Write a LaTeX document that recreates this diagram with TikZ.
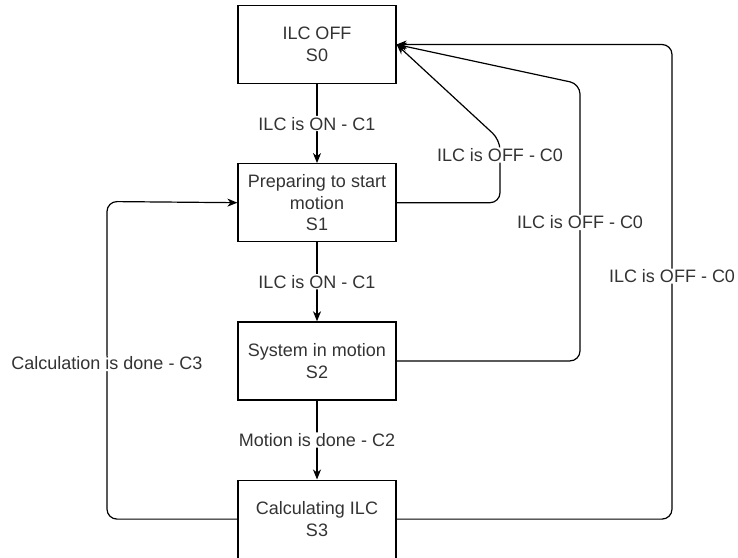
\documentclass[tikz,border=0pt]{standalone}
\usepackage{fontspec}
\setmainfont{Liberation Sans}
\usetikzlibrary{arrows.meta,positioning}

\begin{document}
\begin{tikzpicture}[x=1pt,y=1pt,node distance=79pt,
  state/.style={draw, line width=1.2pt, font=\fontsize{18}{21.6}\selectfont, text=black!80, align=center, inner sep=3pt, minimum width=158pt, minimum height=78pt},
  lbl/.style={fill=white, font=\fontsize{18}{21.6}\selectfont, text=black!80, inner sep=1pt},
  arr/.style={line width=1.2pt, rounded corners=10pt, -{Stealth[length=10pt,width=8pt,inset=3pt]}}]
  \useasboundingbox (0,0) rectangle (738,-557);
  \node[state] (s0) at (317,-44.5) {ILC OFF\\S0};
  \node[state, below=of s0] (s1) {Preparing to start\\motion\\S1};
  \node[state, below=of s1] (s2) {System in motion\\S2};
  \node[state, below=of s2] (s3) {Calculating ILC\\S3};
  \foreach \a/\b/\t in {s0/s1/ILC is ON - C1, s1/s2/ILC is ON - C1, s2/s3/Motion is done - C2} {\draw[arr] (\a) -- node[lbl] {\t} (\b);}
  % bends of the return loops
  \coordinate (k1) at (500,-140);
  \coordinate (k2) at (580,-84);
  \coordinate (k3) at (672,-44.5);
  \coordinate (k4) at (107,-201.5);
  \draw[arr] (s1.east) -| node[lbl, pos=0.88] {ILC is OFF - C0} (k1) -- (s0.east);
  \draw[arr] (s2.east) -| node[lbl, pos=0.75] {ILC is OFF - C0} (k2) -- (s0.east);
  \draw[arr] (s3.east) -| node[lbl, pos=0.756] {ILC is OFF - C0} (k3) -- (s0.east);
  \draw[arr] (s3.west) -| node[lbl, pos=0.745] {Calculation is done - C3} (k4) -- (s1.west);
\end{tikzpicture}
\end{document}
